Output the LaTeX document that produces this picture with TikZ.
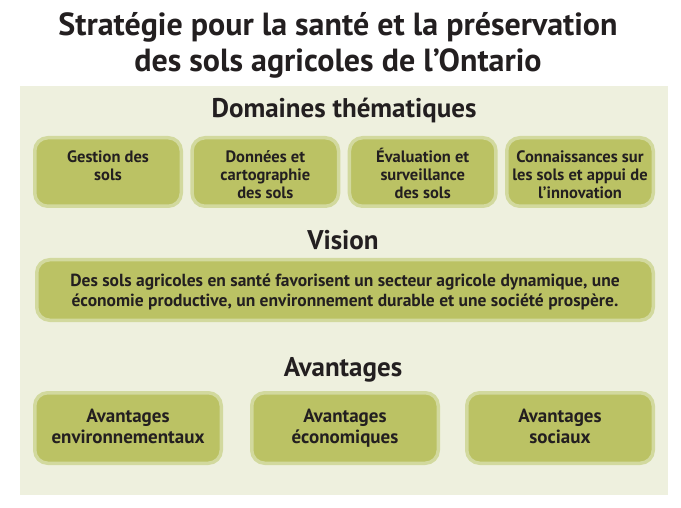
\documentclass[tikz,border=0pt]{standalone}
\usepackage{fontspec}
\setmainfont{PT Sans}
\definecolor{panelbg}{RGB}{238,240,222}
\definecolor{boxfill}{RGB}{187,194,100}
\definecolor{boxrim}{RGB}{210,217,158}
\definecolor{ink}{RGB}{35,31,32}
\tikzset{
  panel/.style={fill=panelbg, draw=none},
  olivebox/.style={fill=boxfill, draw=boxrim, line width=3.5pt, rounded corners=13pt, inner sep=0pt},
  titletext/.style={font=\bfseries\fontsize{32}{36}\selectfont, text=ink, align=center, inner sep=0pt},
  headtext/.style={font=\bfseries\fontsize{27}{30}\selectfont, text=ink, inner sep=0pt},
  domtext/.style={font=\bfseries\fontsize{16.5}{18}\selectfont, text=ink, align=center, inner sep=0pt},
  vistext/.style={font=\bfseries\fontsize{17.5}{20}\selectfont, text=ink, align=center, inner sep=0pt},
  avtext/.style={font=\bfseries\fontsize{19}{21}\selectfont, text=ink, align=center, inner sep=0pt},
}
\begin{document}
\begin{tikzpicture}[x=1pt,y=-1pt]
\useasboundingbox (0,0) rectangle (681,508);
% title
\node[titletext, anchor=base] (title) at (338,72) {Stratégie pour la santé et la préservation\\des sols agricoles de l’Ontario};
% panel
\path[panel] (20,86) rectangle (668,495);
% headings
\node[headtext, anchor=base] (hdom) at (344,118) {Domaines thématiques};
\node[headtext, anchor=base] (hvis) at (343,250) {Vision};
\node[headtext, anchor=base] (hav) at (343,376) {Avantages};
% domain boxes
\node[olivebox, minimum width=146.5pt, minimum height=68.5pt] (d1) at (108,172) {};
\node[olivebox, minimum width=146.5pt, minimum height=68.5pt] (d2) at (265.3,172) {};
\node[olivebox, minimum width=146.5pt, minimum height=68.5pt] (d3) at (422.7,172) {};
\node[olivebox, minimum width=146.5pt, minimum height=68.5pt] (d4) at (580,172) {};
\node[domtext, anchor=base] (t1) at (108,181) {Gestion des\\sols};
\node[domtext, anchor=base] (t2) at (265.3,199) {Données et\\cartographie\\des sols};
\node[domtext, anchor=base] (t3) at (422.7,199) {Évaluation et\\surveillance\\des sols};
\node[domtext, anchor=base] (t4) at (580,199) {Connaissances sur\\les sols et appui de\\l’innovation};
% vision box
\node[olivebox, minimum width=616.5pt, minimum height=60.5pt] (vis) at (345,290) {};
\node[vistext, anchor=base] (tv) at (345,306) {Des sols agricoles en santé favorisent un secteur agricole dynamique, une\\économie productive, un environnement durable et une société prospère.};
% avantages boxes
\node[olivebox, minimum width=186.5pt, minimum height=70.5pt] (a1) at (128,428) {};
\node[olivebox, minimum width=186.5pt, minimum height=70.5pt] (a2) at (345,428) {};
\node[olivebox, minimum width=186.5pt, minimum height=70.5pt] (a3) at (560,428) {};
\node[avtext, anchor=base] (ta1) at (128,443) {Avantages\\environnementaux};
\node[avtext, anchor=base] (ta2) at (345,443) {Avantages\\économiques};
\node[avtext, anchor=base] (ta3) at (560,443) {Avantages\\sociaux};
\end{tikzpicture}
\end{document}
